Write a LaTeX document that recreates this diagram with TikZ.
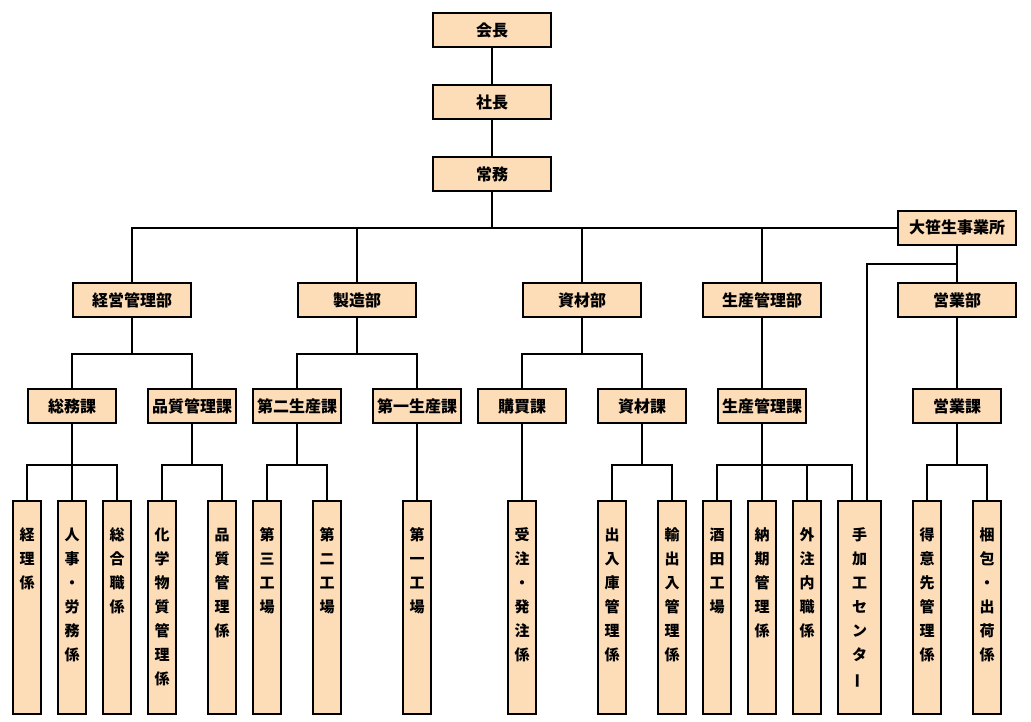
\documentclass[tikz,border=0pt]{standalone}
\usepackage{fontspec}
\setmainfont{Noto Sans CJK JP}
\definecolor{boxfill}{HTML}{FDDCB8}
\newcommand\vtext[1]{\parbox[c][213pt][t]{28pt}{\centering\fontsize{15}{24}\selectfont\bfseries\vspace*{27pt}#1}}
\newcommand\vbar{\rotatebox[origin=c]{90}{ー}}
\begin{document}
\begin{tikzpicture}[x=1pt,y=-1pt,
  conn/.style={line width=2pt},
  hbox/.style={draw, line width=2pt, fill=boxfill, inner sep=0pt,
    minimum width=118pt, minimum height=34pt,
    font=\fontsize{16}{16}\selectfont\bfseries},
  hsmall/.style={hbox, minimum width=88pt},
  vbox/.style={draw, line width=2pt, fill=boxfill, inner sep=0pt,
    minimum width=28pt, minimum height=213pt},
  vwide/.style={vbox, minimum width=43pt}]
\useasboundingbox (0,0) rectangle (1031,721);

% top
\node[hbox] (kaicho) at (492,30) {会長};
\node[hbox] (shacho) at (492,102) {社長};
\node[hbox] (jomu) at (492,174) {常務};
\node[hbox] (osasou) at (957,227.5) {大笹生事業所};

% level 2
\node[hbox] (keiei) at (132,300) {経営管理部};
\node[hbox] (seizo) at (357,300) {製造部};
\node[hbox] (shizai) at (582,300) {資材部};
\node[hbox] (seikan) at (762,300) {生産管理部};
\node[hbox] (eigyo) at (957,300) {営業部};

% level 3
\node[hsmall] (somu) at (72,406) {総務課};
\node[hsmall] (hinshitsu) at (192,406) {品質管理課};
\node[hsmall] (dai2) at (297,406) {第二生産課};
\node[hsmall] (dai1) at (417,406) {第一生産課};
\node[hsmall] (kobai) at (522,406) {購買課};
\node[hsmall] (shizaika) at (642,406) {資材課};
\node[hsmall] (seikanka) at (762,406) {生産管理課};
\node[hsmall] (eigyoka) at (957,406) {営業課};

% level 4
\node[vbox] (keiri) at (27,607.5) {\vtext{経\\理\\係}};
\node[vbox] (jinji) at (72,607.5) {\vtext{人\\事\\・\\労\\務\\係}};
\node[vbox] (sogo) at (117,607.5) {\vtext{総\\合\\職\\係}};
\node[vbox] (kagaku) at (162,607.5) {\vtext{化\\学\\物\\質\\管\\理\\係}};
\node[vbox] (hinkan) at (222,607.5) {\vtext{品\\質\\管\\理\\係}};
\node[vbox] (f3) at (267,607.5) {\vtext{第\\三\\工\\場}};
\node[vbox] (f2) at (327,607.5) {\vtext{第\\二\\工\\場}};
\node[vbox] (f1) at (417,607.5) {\vtext{第\\一\\工\\場}};
\node[vbox] (juchu) at (522,607.5) {\vtext{受\\注\\・\\発\\注\\係}};
\node[vbox] (shukko) at (612,607.5) {\vtext{出\\入\\庫\\管\\理\\係}};
\node[vbox] (yushutsu) at (672,607.5) {\vtext{輸\\出\\入\\管\\理\\係}};
\node[vbox] (sakata) at (717,607.5) {\vtext{酒\\田\\工\\場}};
\node[vbox] (noki) at (762,607.5) {\vtext{納\\期\\管\\理\\係}};
\node[vbox] (gaichu) at (807,607.5) {\vtext{外\\注\\内\\職\\係}};
\node[vwide] (tekako) at (859.5,607.5) {\vtext{手\\加\\工\\セ\\ン\\タ\\\vbar}};
\node[vbox] (tokui) at (927,607.5) {\vtext{得\\意\\先\\管\\理\\係}};
\node[vbox] (konpo) at (987,607.5) {\vtext{梱\\包\\・\\出\\荷\\係}};

% connectors, top
\draw[conn] (kaicho) -- (shacho);
\draw[conn] (shacho) -- (jomu);
\draw[conn] (keiei.north) |- (osasou.west);
\draw[conn] (jomu.south) -- (jomu.south |- osasou.west);
\draw[conn] (seizo.north) -- (seizo.north |- osasou.west);
\draw[conn] (shizai.north) -- (shizai.north |- osasou.west);
\draw[conn] (seikan.north) -- (seikan.north |- osasou.west);
\draw[conn] (osasou) -- (eigyo);
\draw[conn] ([xshift=7.5pt]tekako.north) |- ([yshift=-18.5pt]osasou.south);

% level 2 -> 3
\draw[conn] (keiei.south) -- ++(0,36) -| (somu.north);
\draw[conn] (keiei.south) -- ++(0,36) -| (hinshitsu.north);
\draw[conn] (seizo.south) -- ++(0,36) -| (dai2.north);
\draw[conn] (seizo.south) -- ++(0,36) -| (dai1.north);
\draw[conn] (shizai.south) -- ++(0,36) -| (kobai.north);
\draw[conn] (shizai.south) -- ++(0,36) -| (shizaika.north);
\draw[conn] (seikan) -- (seikanka);
\draw[conn] (eigyo) -- (eigyoka);

% level 3 -> 4
\draw[conn] (somu.south) -- ++(0,41) -| (keiri.north);
\draw[conn] (somu.south) -- (jinji.north);
\draw[conn] (somu.south) -- ++(0,41) -| (sogo.north);
\draw[conn] (hinshitsu.south) -- ++(0,41) -| (kagaku.north);
\draw[conn] (hinshitsu.south) -- ++(0,41) -| (hinkan.north);
\draw[conn] (dai2.south) -- ++(0,41) -| (f3.north);
\draw[conn] (dai2.south) -- ++(0,41) -| (f2.north);
\draw[conn] (dai1) -- (f1);
\draw[conn] (kobai) -- (juchu);
\draw[conn] (shizaika.south) -- ++(0,41) -| (shukko.north);
\draw[conn] (shizaika.south) -- ++(0,41) -| (yushutsu.north);
\draw[conn] (seikanka.south) -- ++(0,41) -| (sakata.north);
\draw[conn] (seikanka.south) -- (noki.north);
\draw[conn] (seikanka.south) -- ++(0,41) -| (gaichu.north);
\draw[conn] (seikanka.south) -- ++(0,41) -| ([xshift=-7.5pt]tekako.north);
\draw[conn] (eigyoka.south) -- ++(0,41) -| (tokui.north);
\draw[conn] (eigyoka.south) -- ++(0,41) -| (konpo.north);
\end{tikzpicture}
\end{document}
